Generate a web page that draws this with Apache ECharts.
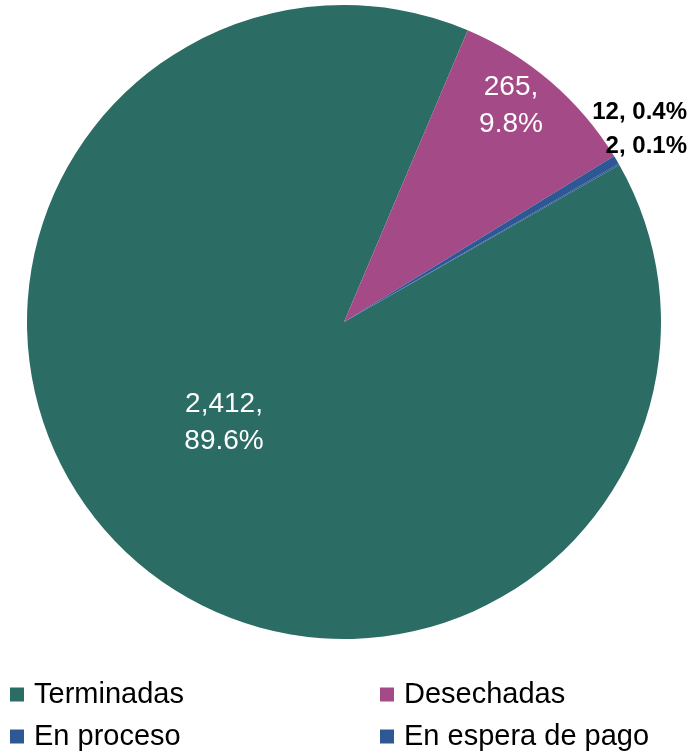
<!DOCTYPE html>
<html>
<head>
<meta charset="utf-8">
<script src="https://cdn.jsdelivr.net/npm/echarts@6/dist/echarts.min.js"></script>
<style>
html,body{margin:0;padding:0;background:#fff;}
#chart{width:691px;height:754px;}
</style>
</head>
<body>
<div id="chart"></div>
<script>
var categories = ['Terminadas', 'Desechadas', 'En proceso', 'En espera de pago'];
var values = [2412, 265, 12, 2];
var percents = ['89.6%', '9.8%', '0.4%', '0.1%'];
var colors = ['#2B6C64', '#A44A87', '#2E5894', '#2E5894'];

var FONT = '"Liberation Sans", Arial, Helvetica, sans-serif';

function fmtNum(v){ return v.toLocaleString('en-US'); }

// label placement (style only)
var labelPos = [
  {x: 224, y: 423, align: 'center'},
  {x: 511, y: 106, align: 'center'},
  {x: 687, y: 112, align: 'right'},
  {x: 687, y: 146, align: 'right'}
];

var data = categories.map(function(name, i){
  var inside = i < 2;
  return {
    name: name,
    value: values[i],
    itemStyle: {color: colors[i]},
    label: {
      show: true,
      position: 'inside',
      formatter: inside ? (fmtNum(values[i]) + ',\n' + percents[i]) : (fmtNum(values[i]) + ', ' + percents[i]),
      color: inside ? '#ffffff' : '#000000',
      fontSize: inside ? 28 : 24,
      fontWeight: inside ? 'normal' : 'bold',
      fontFamily: FONT,
      lineHeight: inside ? 37 : 26,
      align: labelPos[i].align
    }
  };
});

var legendPos = [
  {left: 10, top: 680},
  {left: 380, top: 680},
  {left: 10, top: 722},
  {left: 380, top: 722}
];

var legends = categories.map(function(name, i){
  return {
    data: [name],
    left: legendPos[i].left,
    top: legendPos[i].top,
    padding: 0,
    icon: 'rect',
    itemWidth: 14,
    itemHeight: 14,
    selectedMode: false,
    textStyle: {fontSize: 29, fontFamily: FONT, color: '#000', lineHeight: 28, padding: [0,0,0,5]}
  };
});

var chart = echarts.init(document.getElementById('chart'), null, {renderer: 'canvas'});
chart.setOption({
  animation: false,
  backgroundColor: '#ffffff',
  color: colors,
  legend: legends,
  series: [{
    type: 'pie',
    center: [344, 322],
    radius: [0, 317],
    startAngle: 90 - 60.3,
    clockwise: true,
    avoidLabelOverlap: false,
    labelLine: {show: false},
    itemStyle: {borderWidth: 0},
    emphasis: {disabled: true},
    data: data,
    labelLayout: function(params){
      var p = labelPos[params.dataIndex];
      return {x: p.x, y: p.y, align: p.align, verticalAlign: 'middle'};
    }
  }]
});
</script>
</body>
</html>
